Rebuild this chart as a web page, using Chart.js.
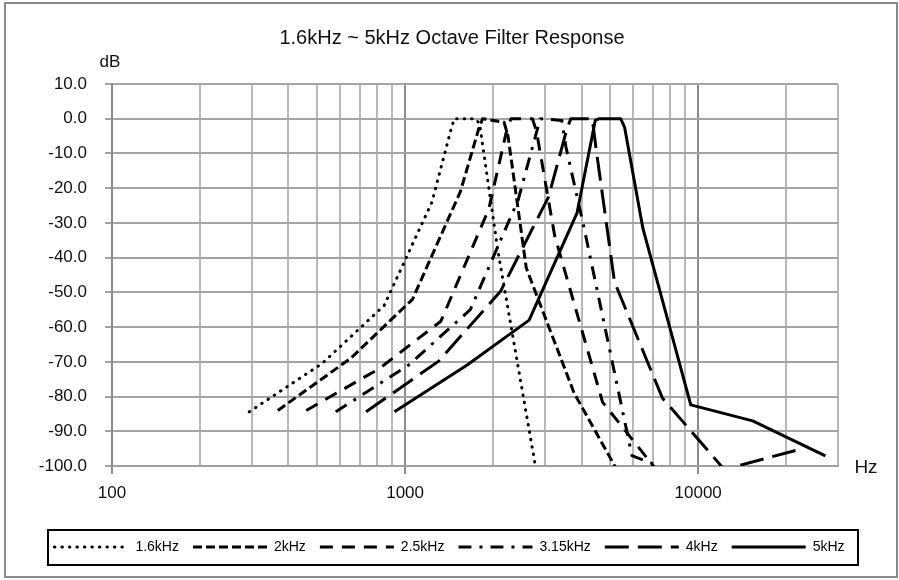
<!DOCTYPE html>
<html>
<head>
<meta charset="utf-8">
<script src="https://cdn.jsdelivr.net/npm/chart.js@4.4.1/dist/chart.umd.min.js"></script>
<style>
html,body{margin:0;padding:0;background:#fff;}
#wrap{width:899px;height:580px;position:relative;}
canvas{display:block;}
</style>
</head>
<body>
<div id="wrap"><canvas id="c" width="899" height="580"></canvas></div>
<script>
// ---- data ----
const seriesNames = ['1.6kHz', '2kHz', '2.5kHz', '3.15kHz', '4kHz', '5kHz'];

const freq1k6 = [294, 521, 848, 1235, 1425, 1471, 1740, 1796, 2073, 3019];
const db1k6   = [-84.4, -70.5, -53.8, -24.0, -4.0, 0, 0, -1.5, -38.0, -117.0];

const freq2k  = [368, 652, 1060, 1544, 1782, 1839, 2176, 2245, 2591, 3774, 6139];
const db2k    = [-84.0, -69.0, -52.0, -21.0, -3.0, 0, -1.0, -5.0, -43.0, -79.0, -111.0];

const freq2k5 = [460, 815, 1325, 1930, 2227, 2298, 2720, 2806, 3239, 4718, 7674];
const db2k5   = [-84.0, -72.0, -58.3, -26.0, -3.0, 0, 0, -3.5, -33.7, -81.6, -104.0];

const freq3k15 = [580, 1026, 1669, 2431, 2806, 2896, 3427, 3536, 4081, 5944, 9669, 17119];
const db3k15   = [-84.4, -71.0, -55.0, -23.4, -4.0, 0, -0.5, -8.0, -31.5, -97.0, -104.0, -106.0];

const freq4k  = [736, 1303, 2120, 3087, 3564, 3677, 4351, 4490, 5183, 7548, 12278, 21739];
const db4k    = [-84.4, -69.8, -49.6, -22.5, -3.0, 0, 0, -9.0, -47.0, -80.4, -101.0, -95.4];

const freq5k  = [920, 1629, 2650, 3859, 4455, 4597, 5439, 5612, 6479, 9435, 15348, 27174];
const db5k    = [-84.4, -70.9, -58.0, -27.2, -0.5, 0, 0, -2.5, -31.6, -82.4, -87.0, -97.1];

const xTickValues = [100, 200, 300, 400, 500, 600, 700, 800, 900,
                     1000, 2000, 3000, 4000, 5000, 6000, 7000, 8000, 9000,
                     10000, 20000, 30000];
const xLabelValues = [100, 1000, 10000];
const yMin = -100, yMax = 10, yStep = 10;

const titleText = '1.6kHz ~ 5kHz Octave Filter Response';
const yUnit = 'dB';
const xUnit = 'Hz';

// ---- styles ----
const FONT = "'Liberation Sans', Arial, sans-serif";
const lineStyles = [
  { borderDash: [0.5, 7], borderCapStyle: 'round', borderWidth: 3 },
  { borderDash: [9, 4], borderCapStyle: 'butt', borderWidth: 3 },
  { borderDash: [13, 9], borderCapStyle: 'butt', borderWidth: 3 },
  { borderDash: [13, 8, 3, 8], borderCapStyle: 'butt', borderWidth: 3 },
  { borderDash: [24, 9], borderCapStyle: 'butt', borderWidth: 3 },
  { borderDash: [], borderCapStyle: 'butt', borderWidth: 3 }
];

const pairs = (fs, ds) => fs.map((f, i) => ({ x: f, y: ds[i] }));
const seriesData = [
  pairs(freq1k6, db1k6), pairs(freq2k, db2k), pairs(freq2k5, db2k5),
  pairs(freq3k15, db3k15), pairs(freq4k, db4k), pairs(freq5k, db5k)
];

const datasets = seriesNames.map((name, i) => Object.assign({
  label: name,
  data: seriesData[i],
  borderColor: '#000',
  backgroundColor: '#000',
  borderJoinStyle: 'round',
  pointRadius: 0,
  pointHoverRadius: 0,
  tension: 0,
  fill: false,
  xAxisID: 'x',
  yAxisID: 'y'
}, lineStyles[i]));

const decorPlugin = {
  id: 'decor',
  beforeDraw(chart) {
    const ctx = chart.ctx;
    ctx.save();
    ctx.fillStyle = '#fff';
    ctx.fillRect(0, 0, chart.width, chart.height);
    ctx.restore();
  },
  afterDraw(chart) {
    const ctx = chart.ctx;
    const ca = chart.chartArea;
    ctx.save();
    // outer frame
    ctx.strokeStyle = '#8a8a8a';
    ctx.lineWidth = 2;
    ctx.strokeRect(5, 3, 892, 574);
    // title
    ctx.fillStyle = '#111';
    ctx.textAlign = 'center';
    ctx.textBaseline = 'middle';
    ctx.font = '20px ' + FONT;
    ctx.fillText(titleText, 452, 38);
    // axis unit labels
    ctx.font = '17px ' + FONT;
    ctx.fillText(yUnit, 110, 62);
    ctx.font = '19px ' + FONT;
    ctx.fillText(xUnit, 866, ca.bottom + 2);
    // legend border
    const lg = chart.legend;
    if (lg && lg.legendHitBoxes && lg.legendHitBoxes.length) {
      const hb = lg.legendHitBoxes[0];
      const cy = hb.top + hb.height / 2;
      ctx.strokeStyle = '#000';
      ctx.lineWidth = 2;
      ctx.strokeRect(48, cy - 17, 810, 35);
    }
    ctx.restore();
  }
};

new Chart(document.getElementById('c'), {
  type: 'line',
  data: { datasets },
  options: {
    responsive: false,
    animation: false,
    devicePixelRatio: 1,
    layout: { padding: { left: 0, right: 0, top: 84, bottom: 16 } },
    plugins: {
      title: { display: false },
      tooltip: { enabled: false },
      legend: {
        display: true,
        position: 'bottom',
        labels: {
          usePointStyle: true,
          pointStyle: 'line',
          pointStyleWidth: 74,
          padding: 14,
          color: '#000',
          font: { size: 14, family: FONT },
          generateLabels(chart) {
            const items = Chart.defaults.plugins.legend.labels.generateLabels(chart);
            items.forEach(it => {
              const ds = chart.data.datasets[it.datasetIndex];
              it.lineDash = ds.borderDash;
              it.lineWidth = ds.borderWidth;
              it.lineCap = ds.borderCapStyle;
              it.strokeStyle = ds.borderColor;
              it.fillStyle = ds.borderColor;
              it.pointStyle = 'line';
            });
            return items;
          }
        }
      }
    },
    scales: {
      x: {
        type: 'logarithmic',
        position: 'bottom',
        min: xTickValues[0],
        max: xTickValues[xTickValues.length - 1],
        afterBuildTicks(scale) {
          scale.ticks = xTickValues.map(v => ({ value: v, major: xLabelValues.includes(v) }));
        },
        afterFit(scale) { scale.height = 60; },
        ticks: {
          autoSkip: false,
          maxRotation: 0,
          padding: 9,
          color: '#111',
          font: { size: 17, family: FONT },
          callback: (v) => xLabelValues.includes(v) ? String(v) : ''
        },
        grid: {
          lineWidth: 2,
          color: (c) => (c.tick && xLabelValues.includes(c.tick.value)) ? '#8c8c8c' : '#b8b8b8',
          tickLength: 8,
          tickColor: (c) => (c.tick && xLabelValues.includes(c.tick.value)) ? '#8c8c8c' : 'rgba(0,0,0,0)',
          tickWidth: 2
        },
        border: { display: true, color: '#a0a0a0', width: 2 }
      },
      y: {
        type: 'linear',
        position: 'left',
        min: yMin,
        max: yMax,
        afterFit(scale) { scale.width = 112; },
        ticks: {
          stepSize: yStep,
          padding: 18,
          color: '#111',
          font: { size: 17, family: FONT },
          callback: (v) => Number(v).toFixed(1)
        },
        grid: {
          lineWidth: 2,
          color: '#a4a4a4',
          tickLength: 7,
          tickColor: '#a4a4a4'
        },
        border: { display: true, color: '#8c8c8c', width: 2 }
      },
      ySpacer: {
        type: 'linear',
        position: 'right',
        display: true,
        min: 0,
        max: 1,
        afterFit(scale) { scale.width = 61; },
        ticks: { display: false },
        grid: { display: false, drawTicks: false },
        border: { display: false }
      }
    }
  },
  plugins: [decorPlugin]
});
</script>
</body>
</html>
